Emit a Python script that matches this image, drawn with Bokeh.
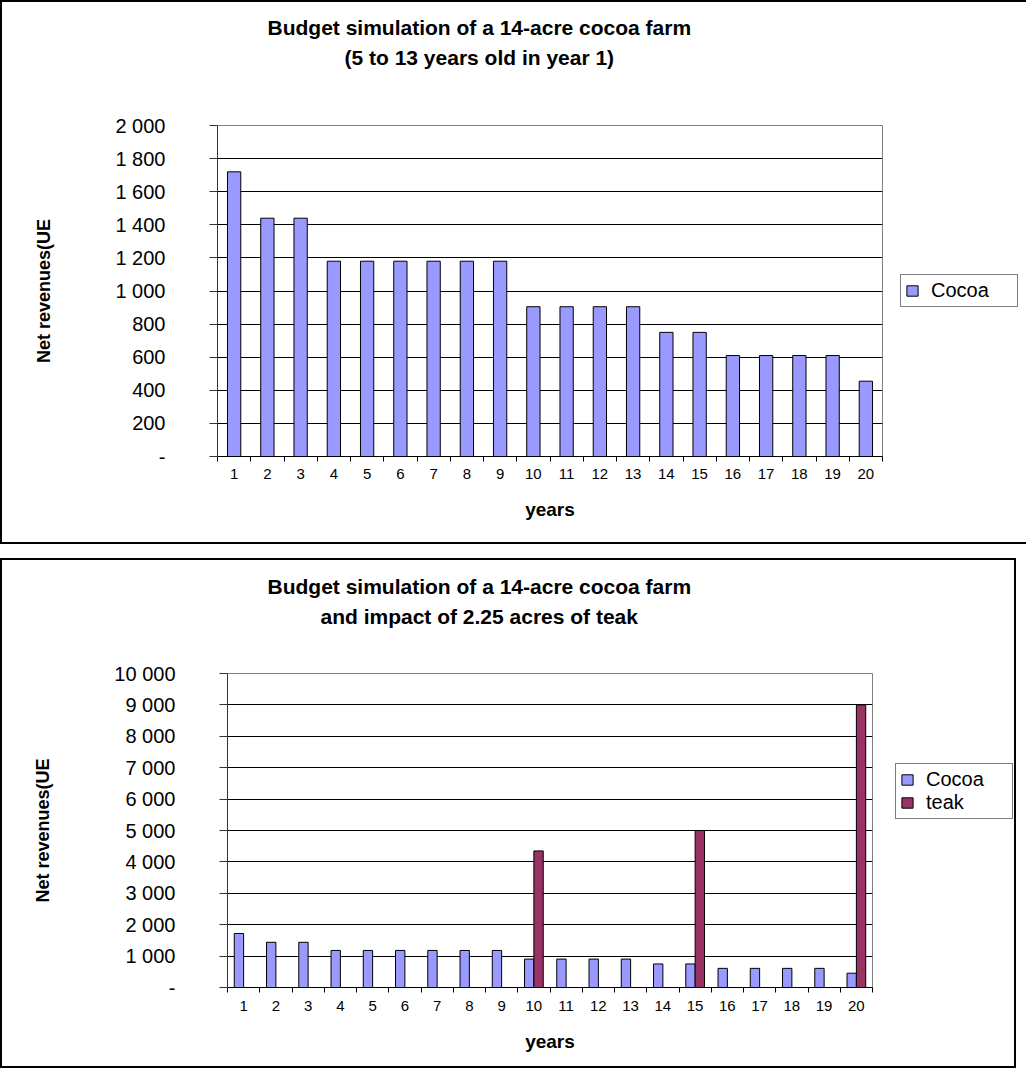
from bokeh.plotting import figure
from bokeh.models import (FixedTicker, Legend, LegendItem, ColumnDataSource, Range1d, Title)
from bokeh.layouts import column, row
from bokeh.transform import dodge
from bokeh.embed import file_html
from bokeh.resources import INLINE

# ---------------- data ----------------
years = list(range(1, 21))
x_labels = [str(y) for y in years]
cocoa = [1720, 1440, 1440, 1180, 1180, 1180, 1180, 1180, 1180, 905,
         905, 905, 905, 750, 750, 610, 610, 610, 610, 455]
teak = [0, 0, 0, 0, 0, 0, 0, 0, 0, 4350,
        0, 0, 0, 0, 5000, 0, 0, 0, 0, 9000]

top_y_ticks = [0, 200, 400, 600, 800, 1000, 1200, 1400, 1600, 1800, 2000]
top_y_labels = ["-", "200", "400", "600", "800", "1 000", "1 200", "1 400", "1 600", "1 800", "2 000"]
bot_y_ticks = [0, 1000, 2000, 3000, 4000, 5000, 6000, 7000, 8000, 9000, 10000]
bot_y_labels = ["-", "1 000", "2 000", "3 000", "4 000", "5 000", "6 000", "7 000", "8 000", "9 000", "10 000"]

top_title = ["Budget simulation of a 14-acre cocoa farm", "(5 to 13 years old in year 1)"]
bot_title = ["Budget simulation of a 14-acre cocoa farm", "and impact of 2.25 acres of teak"]
y_title = "Net revenues(UE"
x_title = "years"
series_names = ["Cocoa", "teak"]
series_colors = ["#9999FF", "#993366"]

FONT = "Liberation Sans"


def style_title(t, text, offset, standoff):
    t.text = text
    t.align = "left"
    t.vertical_align = "bottom"
    t.offset = offset
    try:
        t.standoff = standoff
        used = standoff
    except Exception:
        t.standoff = 0
        used = 0
    t.text_font = FONT
    t.text_font_style = "bold"
    t.text_font_size = "21px"
    t.text_color = "black"
    return t, used


def chart_figure(W, H, left, right, top, bottom, ymax, yticks, ylabels,
                 titles, t_offsets, s_first, s_gap, label_standoff):
    p = figure(width=W, height=H, x_range=Range1d(0.5, 20.5), y_range=Range1d(0, ymax),
               output_backend="svg", toolbar_location=None,
               min_border_left=left, min_border_right=right,
               min_border_top=top, min_border_bottom=bottom)
    p.background_fill_color = "white"
    p.border_fill_color = "white"
    p.outline_line_color = "#808080"
    p.outline_line_width = 1

    # title: first line outermost; a blank spacer is stacked next to the plot,
    # the second line sits between them (pulled up a little towards line one)
    style_title(p.title, titles[0], t_offsets[0], s_first)
    line2, used = style_title(Title(), titles[1], t_offsets[1], -9)
    spacer, _ = style_title(Title(), " ", 0, s_gap - used)
    p.add_layout(spacer, "above")
    p.add_layout(line2, "above")

    # x axis: labels at categories, tick marks at category boundaries
    xa = p.xaxis[0]
    xa.ticker = FixedTicker(ticks=years, minor_ticks=[y - 0.5 for y in years] + [years[-1] + 0.5])
    xa.major_label_overrides = {y: l for y, l in zip(years, x_labels)}
    xa.major_tick_out = 0
    xa.major_tick_in = 0
    xa.minor_tick_out = 5
    xa.minor_tick_in = 0
    xa.minor_tick_line_color = "black"
    xa.axis_line_color = "black"
    xa.major_label_text_font = FONT
    xa.major_label_text_font_size = "15px"
    xa.major_label_text_color = "black"
    xa.major_label_standoff = label_standoff
    xa.axis_label = x_title
    xa.axis_label_text_font = FONT
    xa.axis_label_text_font_style = "bold"
    xa.axis_label_text_font_size = "19px"
    xa.axis_label_text_color = "black"
    xa.axis_label_standoff = 17
    p.xgrid.visible = False

    ya = p.yaxis[0]
    ya.ticker = FixedTicker(ticks=yticks, minor_ticks=[])
    ya.major_label_overrides = {t: l for t, l in zip(yticks, ylabels)}
    ya.major_tick_out = 8
    ya.major_tick_in = 0
    ya.major_tick_line_color = "#333333"
    ya.axis_line_color = "#333333"
    ya.major_label_text_font = FONT
    ya.major_label_text_font_size = "20px"
    ya.major_label_text_color = "black"
    ya.major_label_standoff = 44
    ya.axis_label = y_title
    ya.axis_label_text_font = FONT
    ya.axis_label_text_font_style = "bold"
    ya.axis_label_text_font_size = "18px"
    ya.axis_label_text_color = "black"
    ya.axis_label_standoff = 58
    p.ygrid.grid_line_color = "black"
    p.ygrid.grid_line_width = 1
    return p


def legend_figure(W, H, names, colors, sources, fields, loc):
    # the series are drawn here outside the visible range; only their legend shows
    lf = figure(width=W, height=H, x_range=Range1d(-3, -2), y_range=Range1d(0, 1),
                output_backend="svg", toolbar_location=None,
                min_border_left=0, min_border_right=0, min_border_top=0, min_border_bottom=0)
    lf.axis.visible = False
    lf.grid.visible = False
    lf.outline_line_color = None
    lf.background_fill_color = "white"
    lf.border_fill_color = "white"
    items = []
    for name, col, src, fld in zip(names, colors, sources, fields):
        r = lf.vbar(x="year", top=fld, width=0.3, source=src,
                    fill_color=col, line_color="black", line_width=1)
        items.append(LegendItem(label=name, renderers=[r]))
    lg = Legend(items=items, location=loc, border_line_color="black", border_line_width=1,
                label_text_font=FONT, label_text_font_size="20px", label_text_color="black",
                glyph_width=14, glyph_height=13, label_height=20, label_width=82,
                padding=4, spacing=0, margin=0, label_standoff=12,
                background_fill_color="white", background_fill_alpha=1)
    lf.add_layout(lg)
    return lf


# ---------------- top chart ----------------
src1 = ColumnDataSource(dict(year=years, cocoa=cocoa))
p1 = chart_figure(890, 544, 215, 10, 123, 90, 2000, top_y_ticks, top_y_labels,
                  top_title, [50, 127], 19, 27, 7)
p1.vbar(x="year", top="cocoa", width=0.4, source=src1,
        fill_color=series_colors[0], line_color="black", line_width=1)
p1.styles = {"border-left": "2px solid black", "border-top": "2px solid black",
             "border-bottom": "2px solid black"}
l1 = legend_figure(136, 544, series_names[:1], series_colors[:1], [src1], ["cocoa"], (10, 149))
l1.styles = {"border-top": "2px solid black", "border-bottom": "2px solid black"}

# ---------------- bottom chart ----------------
src2 = ColumnDataSource(dict(year=years, cocoa=cocoa))
teak_years = [y for y, t in zip(years, teak) if t > 0]
teak_vals = [t for t in teak if t > 0]
src3 = ColumnDataSource(dict(year=teak_years, teak=teak_vals))
p2 = chart_figure(880, 510, 225, 10, 113, 83, 10000, bot_y_ticks, bot_y_labels,
                  bot_title, [40, 93], 20, 16, 8)
p2.vbar(x=dodge("year", -0.145, range=p2.x_range), top="cocoa", width=0.29, source=src2,
        fill_color=series_colors[0], line_color="black", line_width=1)
p2.vbar(x=dodge("year", 0.145, range=p2.x_range), top="teak", width=0.29, source=src3,
        fill_color=series_colors[1], line_color="black", line_width=1)
p2.styles = {"border-left": "2px solid black", "border-top": "2px solid black",
             "border-bottom": "2px solid black"}
l2 = legend_figure(136, 510, series_names, series_colors, [src2, src3], ["cocoa", "teak"], (15, 168))
l2.styles = {"border-top": "2px solid black", "border-bottom": "2px solid black",
             "border-right": "2px solid black"}

layout = column(row(p1, l1), row(p2, l2), spacing=14)

open("out.html", "w").write(file_html(layout, INLINE))
